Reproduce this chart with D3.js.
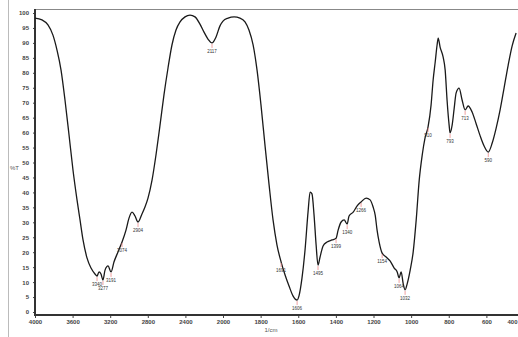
<!DOCTYPE html>
<html>
<head>
<meta charset="utf-8">
<script src="https://cdn.jsdelivr.net/npm/d3@7"></script>
<style>
  body { margin: 0; background: #fff; }
  svg { display: block; font-family: "Liberation Sans", Arial, sans-serif; }
</style>
</head>
<body>
<div id="chart"></div>
<script>
// spectrum: wavenumber (1/cm) and transmittance (%T)
var wavenumbers = [4000, 3926, 3862, 3809, 3766, 3723, 3681, 3638, 3596, 3553, 3521, 3489, 3447, 3404, 3362, 3340, 3319, 3298, 3277, 3255,
  3223, 3191, 3160, 3117, 3074, 3032, 3000, 2968, 2936, 2904, 2862, 2830, 2798, 2755, 2713, 2670, 2628, 2585, 2543, 2500,
  2457, 2404, 2351, 2298, 2245, 2202, 2160, 2117, 2074, 2032, 2000, 1973, 1941, 1910, 1883, 1862, 1840, 1819, 1798, 1777,
  1755, 1734, 1713, 1691, 1670, 1649, 1628, 1606, 1596, 1580, 1564, 1548, 1537, 1527, 1516, 1505, 1495, 1484, 1468, 1447,
  1420, 1399, 1388, 1372, 1356, 1340, 1330, 1308, 1287, 1266, 1239, 1218, 1202, 1191, 1181, 1170, 1154, 1133, 1112, 1090,
  1074, 1064, 1053, 1042, 1032, 1021, 1005, 989, 973, 957, 941, 926, 910, 894, 883, 872, 862, 856, 846, 830,
  819, 809, 798, 793, 782, 771, 761, 745, 729, 713, 697, 676, 654, 633, 612, 590, 569, 548, 527, 506,
  484, 463, 442];
var transmittance = [98.3, 97.7, 96.0, 92.6, 87.6, 80.9, 70.9, 59.2, 47.5, 37.5, 30.8, 24.1, 18.1, 14.7, 12.7, 12.0, 13.4, 12.7, 10.7, 14.0,
  15.4, 13.4, 16.7, 20.1, 23.4, 27.4, 31.4, 33.4, 32.1, 30.1, 32.8, 35.1, 38.1, 44.1, 52.5, 62.5, 72.6, 81.6, 89.3, 94.3,
  97.0, 98.7, 99.3, 98.7, 96.3, 93.6, 91.3, 90.0, 92.0, 95.7, 97.3, 98.3, 98.7, 98.3, 97.0, 94.3, 89.3, 80.9, 69.2, 55.9,
  42.5, 30.8, 22.4, 16.7, 12.4, 8.7, 5.4, 4.0, 5.4, 11.4, 20.7, 33.4, 40.1, 39.5, 32.4, 22.4, 15.7, 18.4, 22.1, 23.4,
  24.1, 24.7, 27.4, 30.1, 30.8, 29.4, 32.1, 33.4, 35.5, 36.8, 38.1, 37.5, 35.1, 32.4, 27.4, 23.4, 19.7, 18.4, 17.1, 14.7,
  13.4, 11.4, 13.4, 9.4, 7.4, 9.4, 14.0, 20.1, 30.8, 44.1, 52.5, 58.2, 61.9, 69.2, 77.6, 83.6, 89.3, 91.6, 88.6, 85.3,
  80.9, 70.9, 62.5, 59.9, 62.5, 68.2, 73.2, 74.9, 70.9, 67.6, 68.9, 66.9, 62.9, 58.9, 55.5, 53.5, 56.5, 61.5, 67.6, 74.9,
  82.6, 89.0, 93.3];

// picked peaks (labelled on the curve)
var peakWavenumbers = [3340, 3277, 3191, 3074, 2904, 2117, 1691, 1606, 1495, 1399, 1340, 1266, 1154, 1064, 1032, 910, 793, 713, 590];

var xTicks = [4000, 3600, 3200, 2800, 2400, 2000, 1800, 1600, 1400, 1200, 1000, 800, 600, 400];
var yTicks = [100, 95, 90, 85, 80, 75, 70, 65, 60, 55, 50, 45, 40, 35, 30, 25, 20, 15, 10, 5, 0];

var width = 518, height = 337;
var svg = d3.select("#chart").append("svg").attr("width", width).attr("height", height);

// IR plots expand the scale below 2000 1/cm
var x = d3.scaleLinear().domain([4000, 2000, 400]).range([35, 223, 524]);
var y = d3.scaleLinear().domain([0, 100]).range([312, 13]);

var data = wavenumbers.map(function (w, i) { return { wn: w, t: transmittance[i] }; });

// frame lines
svg.append("line").attr("x1", 8.5).attr("x2", 8.5).attr("y1", 0).attr("y2", height)
  .attr("stroke", "#bbb").attr("stroke-width", 1);
svg.append("line").attr("x1", 35).attr("x2", width).attr("y1", 9.5).attr("y2", 9.5)
  .attr("stroke", "#888").attr("stroke-width", 1);

// axes
var yAxis = d3.axisLeft(y).tickValues(yTicks).tickSize(2).tickPadding(4).tickFormat(d3.format("d"));
var gy = svg.append("g").attr("transform", "translate(35,0)").call(yAxis);
gy.select(".domain").remove();
gy.selectAll("text").attr("font-size", "6px").attr("fill", "#444").attr("font-weight", "bold");
gy.selectAll("line").attr("stroke", "#444");

var xAxis = d3.axisBottom(x).tickValues(xTicks).tickSize(3).tickPadding(2).tickFormat(d3.format("d"));
var gx = svg.append("g").attr("transform", "translate(0,315)").call(xAxis);
gx.select(".domain").remove();
gx.selectAll("text").attr("font-size", "6px").attr("fill", "#444").attr("font-weight", "bold")
  .style("text-anchor", function (d) { return x(d) + 8 > width ? "end" : "middle"; })
  .attr("x", function (d) { return x(d) + 8 > width ? width - 1 - x(d) : 0; });
gx.selectAll("line").attr("stroke", "#444");

svg.append("line").attr("x1", 35).attr("x2", 35).attr("y1", 9).attr("y2", 316)
  .attr("stroke", "#333").attr("stroke-width", 2);
svg.append("line").attr("x1", 34).attr("x2", width).attr("y1", 315).attr("y2", 315)
  .attr("stroke", "#333").attr("stroke-width", 2);

// axis titles
svg.append("text").attr("x", 10).attr("y", 170).attr("font-size", "6px").attr("fill", "#555").text("%T");
svg.append("text").attr("x", 271).attr("y", 332).attr("font-size", "6px").attr("fill", "#555")
  .style("text-anchor", "middle").text("1/cm");

// spectrum
var line = d3.line().x(function (d) { return x(d.wn); }).y(function (d) { return y(d.t); }).curve(d3.curveMonotoneX);
svg.append("path").datum(data).attr("d", line).attr("fill", "none")
  .attr("stroke", "#1a1a1a").attr("stroke-width", 1.3).attr("stroke-linejoin", "round");

// peak marks
function lookup(w) {
  var i = wavenumbers.indexOf(w);
  return transmittance[i];
}
var peaks = svg.append("g").selectAll("g").data(peakWavenumbers).enter().append("g");
peaks.append("line")
  .attr("x1", function (d) { return x(d); }).attr("x2", function (d) { return x(d); })
  .attr("y1", function (d) { return y(lookup(d)) + 1; })
  .attr("y2", function (d) { return y(lookup(d)) + 5; })
  .attr("stroke", "#e88").attr("stroke-width", 0.8);
peaks.append("text")
  .attr("x", function (d) { return x(d); })
  .attr("y", function (d) { return y(lookup(d)) + 10; })
  .attr("font-size", "4.5px").attr("fill", "#333").style("text-anchor", "middle")
  .text(function (d) { return d; });
</script>
</body>
</html>
